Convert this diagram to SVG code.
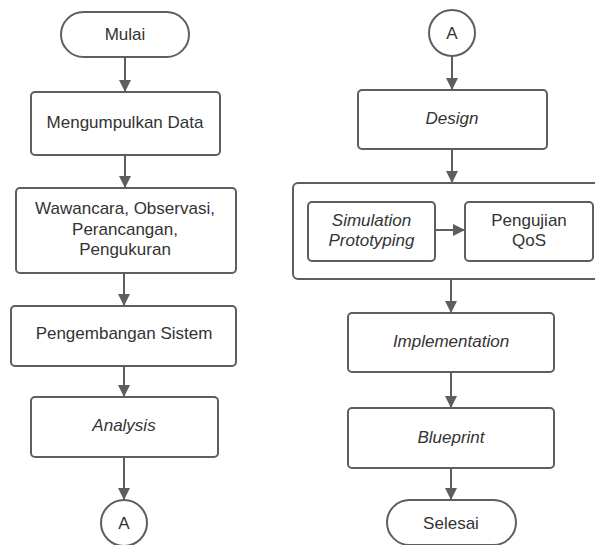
<svg xmlns="http://www.w3.org/2000/svg" width="595" height="545" viewBox="0 0 595 545">
<style>
.b{fill:#fff;stroke:#5e5e5e;stroke-width:2}
.t{font-family:"Liberation Sans",Arial,sans-serif;font-size:17px;fill:#333;text-anchor:middle}
.i{font-style:italic}
.c{stroke:#5e5e5e;stroke-width:2;fill:none;marker-end:url(#ah)}
</style>
<defs>
<marker id="ah" markerUnits="userSpaceOnUse" markerWidth="12" markerHeight="14" refX="12" refY="6" orient="auto">
<path d="M0,0 L12,6 L0,12 Z" fill="#5e5e5e"/>
</marker>
</defs>
<rect width="595" height="545" fill="#fff"/>
<g id="mulai"><rect class="b" x="61" y="12" width="128" height="45" rx="22.5"/><text class="t" x="125" y="40">Mulai</text></g>
<g id="mengumpulkan"><rect class="b" x="31" y="92" width="189" height="63" rx="4"/><text class="t" x="125" y="128">Mengumpulkan Data</text></g>
<g id="wawancara"><rect class="b" x="16" y="188" width="220" height="85" rx="4"/><text class="t" x="125" y="214">Wawancara, Observasi,</text><text class="t" x="125" y="235">Perancangan,</text><text class="t" x="125" y="255">Pengukuran</text></g>
<g id="pengembangan"><rect class="b" x="11" y="306" width="225" height="60" rx="4"/><text class="t" x="124" y="339">Pengembangan Sistem</text></g>
<g id="analysis"><rect class="b" x="31" y="397" width="187" height="60" rx="4"/><text class="t i" x="124" y="431">Analysis</text></g>
<g id="a1"><circle class="b" cx="124" cy="523" r="23"/><text class="t" x="124" y="529">A</text></g>
<g id="a2"><circle class="b" cx="452" cy="33" r="23"/><text class="t" x="452" y="39">A</text></g>
<g id="design"><rect class="b" x="358" y="90" width="189" height="59" rx="4"/><text class="t i" x="452" y="124">Design</text></g>
<g id="container"><rect class="b" x="293" y="183" width="310" height="96" rx="5"/></g>
<g id="simulation"><rect class="b" x="308" y="202" width="127" height="59" rx="4"/><text class="t i" x="371.5" y="226">Simulation</text><text class="t i" x="371.5" y="246">Prototyping</text></g>
<g id="pengujian"><rect class="b" x="465" y="202" width="128" height="59" rx="4"/><text class="t" x="529" y="226">Pengujian</text><text class="t" x="529" y="246">QoS</text></g>
<g id="implementation"><rect class="b" x="348" y="313" width="206" height="59" rx="4"/><text class="t i" x="451" y="347">Implementation</text></g>
<g id="blueprint"><rect class="b" x="348" y="408" width="206" height="60" rx="4"/><text class="t i" x="451" y="443">Blueprint</text></g>
<g id="selesai"><rect class="b" x="387" y="500" width="129" height="45" rx="22.5"/><text class="t" x="451" y="529">Selesai</text></g>
<g id="connectors">
<line class="c" x1="125" y1="57" x2="125" y2="92"/>
<line class="c" x1="125" y1="155" x2="125" y2="188"/>
<line class="c" x1="124" y1="273" x2="124" y2="306"/>
<line class="c" x1="124" y1="366" x2="124" y2="397"/>
<line class="c" x1="124" y1="457" x2="124" y2="500"/>
<line class="c" x1="452" y1="56" x2="452" y2="90"/>
<line class="c" x1="452" y1="149" x2="452" y2="183"/>
<line class="c" x1="435" y1="230" x2="465" y2="230"/>
<line class="c" x1="451" y1="279" x2="451" y2="313"/>
<line class="c" x1="451" y1="372" x2="451" y2="408"/>
<line class="c" x1="451" y1="468" x2="451" y2="500"/>
</g>
</svg>
